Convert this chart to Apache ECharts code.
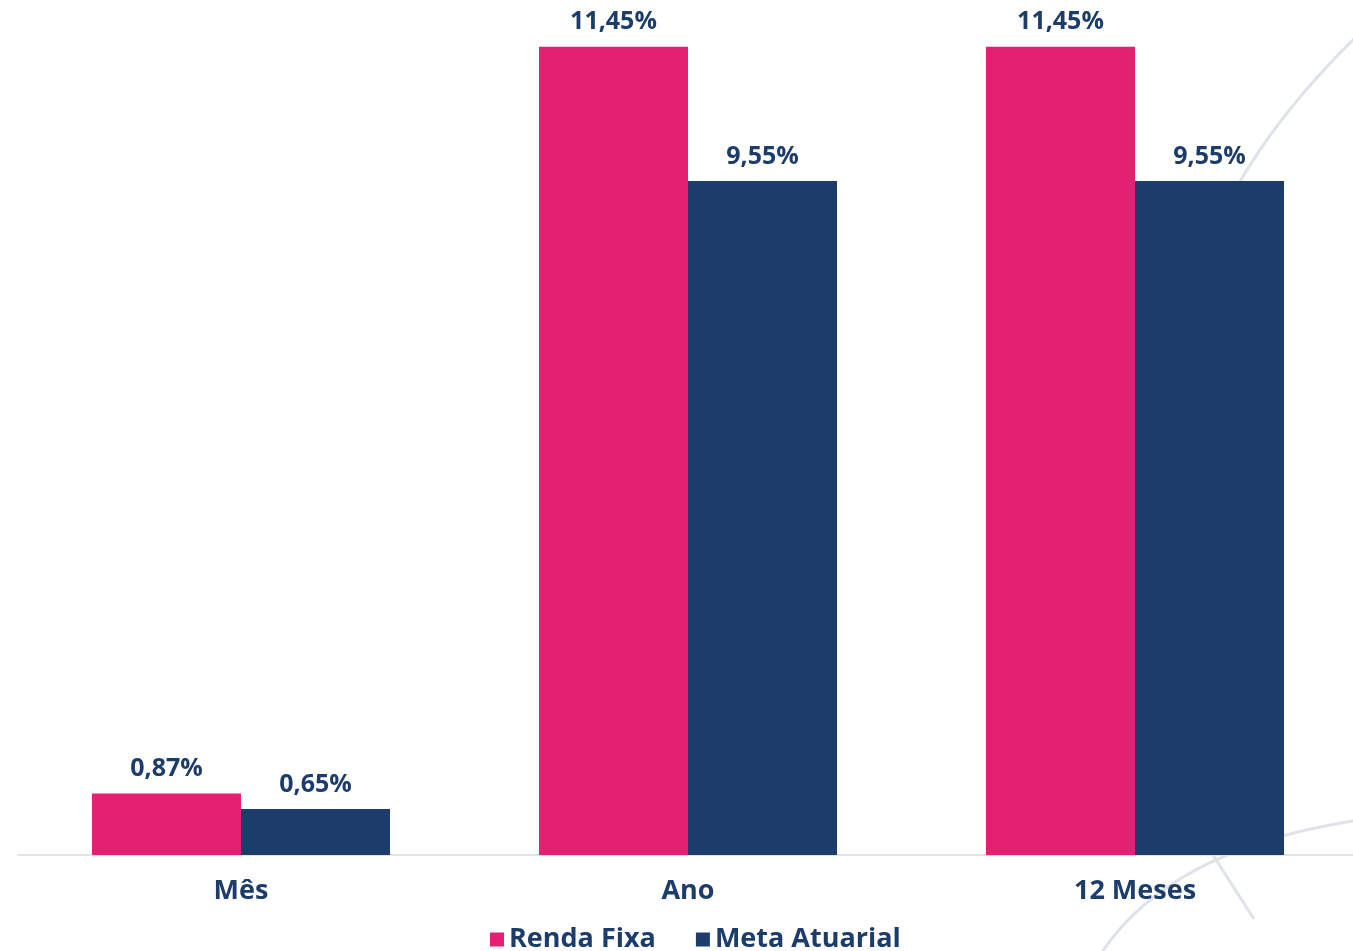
<!DOCTYPE html>
<html>
<head>
<meta charset="utf-8">
<script src="https://cdn.jsdelivr.net/npm/echarts@6/dist/echarts.min.js"></script>
<style>
html,body{margin:0;padding:0;background:#fff;}
#main{width:1353px;height:951px;}
</style>
</head>
<body>
<div id="main"></div>
<script>
var categories = ['Mês', 'Ano', '12 Meses'];
var rendaFixa = [0.87, 11.45, 11.45];
var metaAtuarial = [0.65, 9.55, 9.55];
var seriesNames = ['Renda Fixa', 'Meta Atuarial'];

var FONT = 'Open Sans';
var TEXT = '#1c3d6b';
function fmt(p){ return p.value.toFixed(2).replace('.', ',') + '%'; }

var chart = echarts.init(document.getElementById('main'));
var labelStyle = {
  show: true, position: 'top', distance: 12,
  color: TEXT, fontFamily: FONT, fontWeight: 700, fontSize: 25,
  formatter: fmt
};
chart.setOption({
  backgroundColor: '#ffffff',
  animation: false,
  graphic: [
    { type: 'bezierCurve', z: 0, silent: true,
      shape: { x1: 1360, y1: 33, cpx1: 1280, cpy1: 110, x2: 1235, y2: 190 },
      style: { stroke: '#dfe2e8', lineWidth: 3, fill: null } },
    { type: 'bezierCurve', z: 0, silent: true,
      shape: { x1: 1360, y1: 820, cpx1: 1170, cpy1: 848, x2: 1100, y2: 955 },
      style: { stroke: '#dfe2e8', lineWidth: 3, fill: null } },
    { type: 'line', z: 0, silent: true,
      shape: { x1: 1211, y1: 852, x2: 1254, y2: 919 },
      style: { stroke: '#dfe2e8', lineWidth: 3 } }
  ],
  grid: [
    { left: 241, right: 218, top: 8, bottom: 96, containLabel: false },
    { left: 18, right: 0, top: 8, bottom: 96, containLabel: false }
  ],
  legend: {
    data: seriesNames, top: 921, left: 485,
    icon: 'rect', itemWidth: 14, itemHeight: 14, itemGap: 40,
    textStyle: { color: TEXT, fontFamily: FONT, fontWeight: 700, fontSize: 27 }
  },
  xAxis: [
    { type: 'category', data: categories, gridIndex: 0, boundaryGap: false,
      axisLine: { show: false },
      axisTick: { show: false },
      axisLabel: { color: TEXT, fontFamily: FONT, fontWeight: 700, fontSize: 27, margin: 23 } },
    { type: 'category', data: categories, gridIndex: 1,
      axisLine: { show: true, lineStyle: { color: '#e3e3e3', width: 2 } },
      axisTick: { show: false },
      axisLabel: { show: false } }
  ],
  yAxis: [
    { type: 'value', min: 0, max: 12, show: false, gridIndex: 0, splitLine: { show: false } },
    { type: 'value', min: 0, max: 12, show: false, gridIndex: 1, splitLine: { show: false } }
  ],
  series: [
    { name: seriesNames[0], type: 'bar', data: rendaFixa, z: 5,
      barGap: '0%', barWidth: 149,
      itemStyle: { color: '#e42072' }, label: labelStyle },
    { name: seriesNames[1], type: 'bar', data: metaAtuarial, z: 5,
      barWidth: 149,
      itemStyle: { color: '#1c3d6b' }, label: labelStyle }
  ]
});
</script>
</body>
</html>
